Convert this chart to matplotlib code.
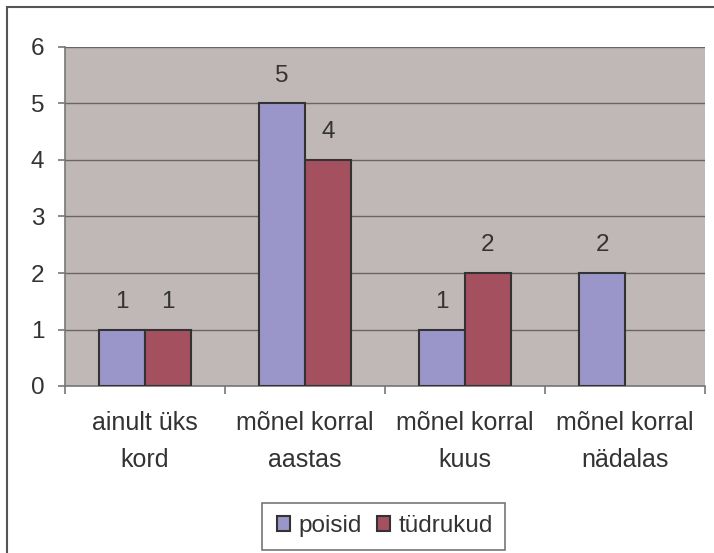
import matplotlib
matplotlib.use("Agg")
import matplotlib.pyplot as plt
from matplotlib.patches import Rectangle
import numpy as np

categories = ["ainult üks\nkord", "mõnel korral\naastas", "mõnel korral\nkuus", "mõnel korral\nnädalas"]
poisid = [1, 5, 1, 2]
tudrukud = [1, 4, 2, 0]
series_names = ["poisid", "tüdrukud"]
yticks = [0, 1, 2, 3, 4, 5, 6]

plt.rcParams['font.family'] = ['Liberation Sans', 'DejaVu Sans']
W, H = 714, 553
fig = plt.figure(figsize=(W/100, H/100), dpi=100)
fig.patch.set_facecolor('white')
fig.patches.append(Rectangle((7/W, -0.1), 1.2, (553-7)/H + 0.1, transform=fig.transFigure,
                             fill=False, edgecolor='#555555', linewidth=1.5))

ax = fig.add_axes([65/W, (553-386)/H, 640/W, 339/H])
ax.set_facecolor('#C0B8B6')
x = np.arange(len(categories))
bw = 1/3.5
c1, c2 = '#9B96CA', '#A5505F'
ec = '#333333'
b1 = ax.bar(x - bw/2, poisid, bw, color=c1, edgecolor=ec, linewidth=1.5, label=series_names[0], zorder=3)
b2 = ax.bar(x + bw/2, tudrukud, bw, color=c2, edgecolor=ec, linewidth=1.5, label=series_names[1], zorder=3)
for rect in list(b1) + list(b2):
    if rect.get_height() == 0:
        rect.set_visible(False)
for xs, vals in ((x - bw/2, poisid), (x + bw/2, tudrukud)):
    for xi, v in zip(xs, vals):
        if v > 0:
            ax.annotate(str(v), (xi, v), xytext=(0, 12), textcoords='offset points',
                        ha='center', va='bottom', fontsize=17.5, color='#333333')
ax.set_xlim(-0.5, len(categories) - 0.5)
ax.set_ylim(0, 6)
ax.set_yticks(yticks)
ax.set_yticklabels([str(t) for t in yticks], fontsize=17.5, color='#333333')
ax.yaxis.grid(True, color='#666666', linewidth=1)
ax.set_axisbelow(True)
ax.set_xticks(np.arange(len(categories) + 1) - 0.5)
ax.set_xticklabels([])
ax.tick_params(axis='x', length=6, color='#777777', width=1.2)
ax.tick_params(axis='y', length=5, color='#777777', width=1.2, pad=10)
for i, c in enumerate(categories):
    ax.text(i, -0.45, c, ha='center', va='top', fontsize=18, color='#333333',
            linespacing=1.65, transform=ax.transData)
for s in ['top', 'right']:
    ax.spines[s].set_visible(False)
for s in ['left', 'bottom']:
    ax.spines[s].set_color('#777777')
    ax.spines[s].set_linewidth(1.2)

leg = fig.legend(handles=[b1, b2], labels=series_names, loc='center', bbox_to_anchor=(385/W, (553-526)/H),
                 ncol=2, fontsize=17.5, frameon=False, handlelength=0.55, handleheight=0.55,
                 handletextpad=0.35, columnspacing=0.6, borderpad=0.3, labelcolor='#333333')
fig.patches.append(Rectangle((262/W, (553-550)/H), (505-262)/W, 47/H, transform=fig.transFigure,
                             fill=False, edgecolor='#777777', linewidth=1.2))

fig.savefig('out.png', dpi=100)
